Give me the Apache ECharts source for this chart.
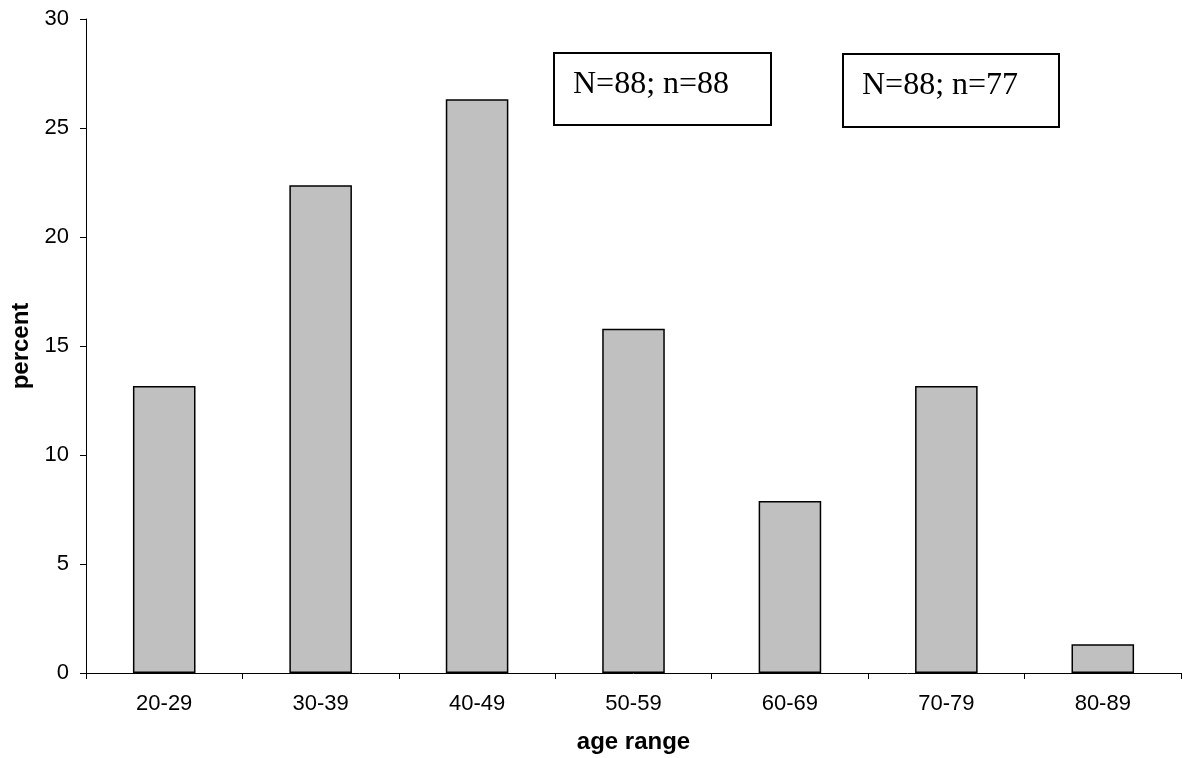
<!DOCTYPE html>
<html>
<head>
<meta charset="utf-8">
<title>age range</title>
<script src="https://cdn.jsdelivr.net/npm/echarts@6/dist/echarts.min.js"></script>
<style>
  html, body { margin: 0; padding: 0; background: #fff; }
  #chart { width: 1183px; height: 758px; }
</style>
</head>
<body>
<div id="chart"></div>
<script>
// Age distribution of respondents (percent per age band)
const ageRanges = ['20-29', '30-39', '40-49', '50-59', '60-69', '70-79', '80-89'];
const percentValues = [13.16, 22.37, 26.32, 15.79, 7.89, 13.16, 1.32];
const yTicks = { min: 0, max: 30, step: 5 };
const sampleNotes = ['N=88; n=88', 'N=88; n=77'];

const chart = echarts.init(document.getElementById('chart'), null, { renderer: 'canvas' });

const sans = '"Liberation Sans", Arial, sans-serif';
const serif = '"Liberation Serif", "Times New Roman", serif';

// annotation boxes placed in the upper plot area
const noteBoxes = [
  { left: 553, top: 52, width: 217, height: 72 },
  { left: 842, top: 53, width: 216, height: 73 }
];

const graphics = [];
sampleNotes.forEach((txt, i) => {
  const b = noteBoxes[i];
  graphics.push({
    type: 'rect',
    left: b.left, top: b.top,
    shape: { width: b.width, height: b.height },
    style: { fill: '#fff', stroke: '#000', lineWidth: 2 },
    z: 10
  });
  graphics.push({
    type: 'text',
    left: b.left + 20, top: b.top + 17,
    style: { text: txt, font: '32px ' + serif, fill: '#000' },
    z: 11
  });
});

chart.setOption({
  animation: false,
  backgroundColor: '#fff',
  grid: {
    left: 86, right: 2, top: 19, bottom: 85,
    containLabel: false,
    outerBoundsMode: 'none'
  },
  xAxis: {
    type: 'category',
    data: ageRanges,
    boundaryGap: true,
    name: 'age range',
    nameLocation: 'middle',
    nameGap: 57,
    nameTextStyle: { fontFamily: sans, fontSize: 24, fontWeight: 'bold', color: '#000' },
    axisLine: { lineStyle: { color: '#000', width: 1 } },
    axisTick: { show: true, length: 6, lineStyle: { color: '#000' } },
    axisLabel: { fontFamily: sans, fontSize: 22, color: '#000', margin: 20 },
    splitLine: { show: false }
  },
  yAxis: {
    type: 'value',
    min: yTicks.min, max: yTicks.max, interval: yTicks.step,
    name: 'percent',
    nameLocation: 'middle',
    nameRotate: 90,
    nameGap: 52,
    nameTextStyle: { fontFamily: sans, fontSize: 24, fontWeight: 'bold', color: '#000' },
    axisLine: { show: true, lineStyle: { color: '#000', width: 1 } },
    axisTick: { show: true, length: 6, lineStyle: { color: '#000' } },
    axisLabel: { fontFamily: sans, fontSize: 22, color: '#000', margin: 17 },
    splitLine: { show: false }
  },
  series: [{
    type: 'bar',
    data: percentValues,
    barWidth: '40%',
    itemStyle: { color: '#C0C0C0', borderColor: '#000', borderWidth: 1.5 }
  }],
  graphic: graphics
});
</script>
</body>
</html>
